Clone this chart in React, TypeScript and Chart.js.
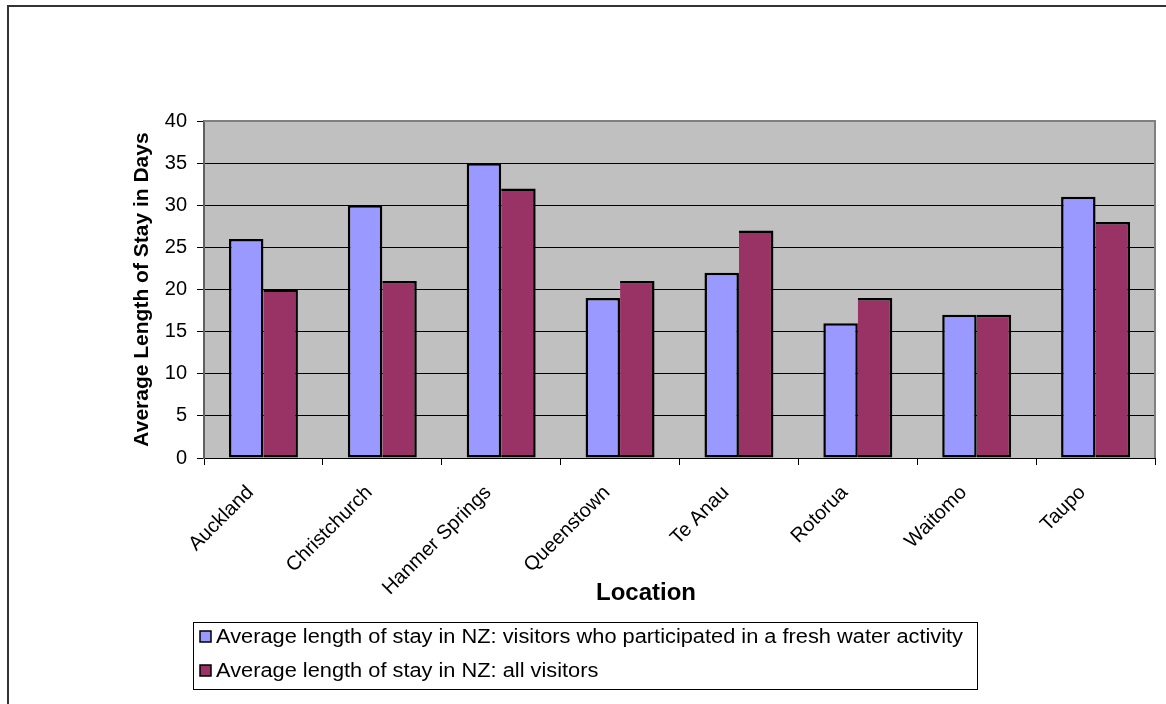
import React, { useEffect, useRef } from "react";
import { Chart, registerables } from "chart.js";

Chart.register(...registerables);

const categories = ["Auckland", "Christchurch", "Hanmer Springs", "Queenstown", "Te Anau", "Rotorua", "Waitomo", "Taupo"];
const freshWaterVisitors = [26, 30, 35, 19, 22, 16, 17, 31];
const allVisitors = [20, 21, 32, 21, 27, 19, 17, 28];
const seriesLabels = [
  "Average length of stay in NZ: visitors who participated in a fresh water activity",
  "Average length of stay in NZ: all visitors",
];
const seriesColors = ["#9999FF", "#993366"];
const yTitle = "Average Length of Stay in Days";
const xTitle = "Location";

const FONT = '"Liberation Sans", Arial, sans-serif';

const decorPlugin = {
  id: "decor",
  beforeDraw(chart: any) {
    const { ctx, chartArea: a } = chart;
    ctx.save();
    ctx.fillStyle = "#fff";
    ctx.fillRect(0, 0, chart.width, chart.height);
    ctx.fillStyle = "#C0C0C0";
    ctx.fillRect(a.left, a.top, a.right - a.left, a.bottom - a.top);
    ctx.restore();
  },
  beforeDatasetsDraw(chart: any) {
    const { ctx, chartArea: a } = chart;
    ctx.save();
    ctx.strokeStyle = "#808080";
    ctx.lineWidth = 2;
    ctx.beginPath();
    ctx.moveTo(a.left, a.top);
    ctx.lineTo(a.right, a.top);
    ctx.lineTo(a.right, a.bottom);
    ctx.stroke();
    ctx.restore();
  },
  afterDraw(chart: any) {
    const { ctx } = chart;
    ctx.save();
    // outer frame
    ctx.strokeStyle = "#333";
    ctx.lineWidth = 2;
    ctx.strokeRect(8, 6, 1300, 900);

    // x-axis title
    ctx.fillStyle = "#000";
    ctx.font = `bold 24px ${FONT}`;
    ctx.textAlign = "center";
    ctx.textBaseline = "middle";
    ctx.fillText(xTitle, 646, 593);

    // legend
    const bx = 193, by = 622, bw = 784, bh = 67;
    ctx.fillStyle = "#fff";
    ctx.fillRect(bx, by, bw, bh);
    ctx.strokeStyle = "#000";
    ctx.lineWidth = 1;
    ctx.strokeRect(bx + 0.5, by + 0.5, bw, bh);
    ctx.font = `20px ${FONT}`;
    ctx.textAlign = "left";
    ctx.textBaseline = "middle";
    const natural = ctx.measureText(chart.data.datasets[0].label).width;
    const sx = 747 / natural;
    const rows = [637, 671];
    chart.data.datasets.forEach((ds: any, i: number) => {
      const y = rows[i];
      ctx.fillStyle = ds.backgroundColor;
      ctx.fillRect(200, y - 6, 11, 11);
      ctx.strokeStyle = "#000";
      ctx.lineWidth = 1.5;
      ctx.strokeRect(200, y - 6, 11, 11);
      ctx.fillStyle = "#000";
      ctx.save();
      ctx.translate(216, y);
      ctx.scale(sx, 1);
      ctx.fillText(ds.label, 0, 0);
      ctx.restore();
    });
    ctx.restore();
  },
};

export default function App() {
  const ref = useRef<HTMLCanvasElement | null>(null);
  useEffect(() => {
    if (!ref.current) return;
    const chart = new Chart(ref.current, {
      type: "bar",
      data: {
        labels: categories,
        datasets: [
          {
            label: seriesLabels[0],
            data: freshWaterVisitors,
            backgroundColor: seriesColors[0],
            borderColor: "#000",
            borderWidth: 2.5,
            borderSkipped: false,
            categoryPercentage: 0.58,
            barPercentage: 1.0,
          },
          {
            label: seriesLabels[1],
            data: allVisitors,
            backgroundColor: seriesColors[1],
            borderColor: "#000",
            borderWidth: 2.5,
            borderSkipped: "left",
            categoryPercentage: 0.58,
            barPercentage: 1.0,
          },
        ],
      },
      options: {
        responsive: false,
        animation: false,
        layout: { padding: { left: 130, right: 11, top: 121, bottom: 86 } },
        plugins: {
          legend: { display: false },
          tooltip: { enabled: false },
        },
        scales: {
          x: {
            afterFit: (s: any) => {
              s.height = 160;
            },
            grid: {
              display: true,
              drawOnChartArea: false,
              drawTicks: true,
              tickLength: 7,
              offset: true,
              color: "#000",
            },
            border: { color: "#000", width: 1 },
            ticks: {
              color: "#000",
              font: { family: FONT, size: 20 },
              minRotation: 45,
              maxRotation: 45,
              padding: 16,
              labelOffset: -13,
              autoSkip: false,
            },
          },
          y: {
            min: 0,
            max: 40,
            afterFit: (s: any) => {
              s.width = 74;
            },
            ticks: {
              stepSize: 5,
              color: "#000",
              font: { family: FONT, size: 20 },
              padding: 10,
            },
            grid: {
              color: (c: any) => (c.tick && c.tick.value === 40 ? "#808080" : "#000"),
              tickColor: "#000",
              tickLength: 7,
              lineWidth: 1,
            },
            border: { color: "#606060", width: 2 },
            title: {
              display: true,
              text: yTitle,
              color: "#000",
              font: { family: FONT, size: 21, weight: "bold" },
              padding: { top: 0, bottom: 0 },
            },
          },
        },
      },
      plugins: [decorPlugin],
    });
    return () => chart.destroy();
  }, []);
  return (
    <div style={{ position: "fixed", left: 0, top: 0, width: 1166, height: 704 }}>
      <canvas ref={ref} width={1166} height={704} style={{ display: "block" }} />
    </div>
  );
}
